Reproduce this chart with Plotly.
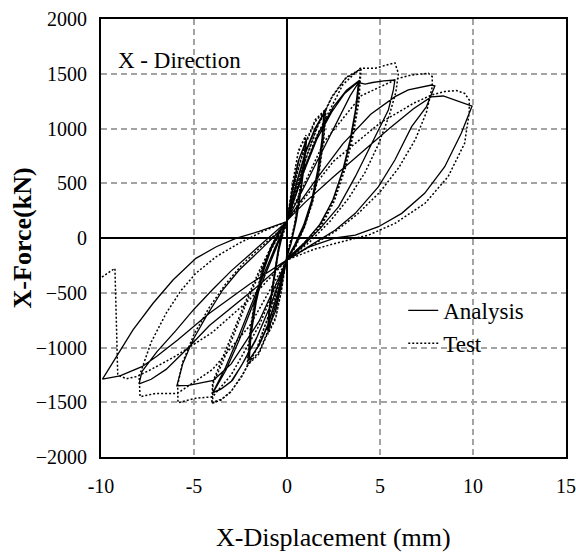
import plotly.graph_objects as go

# ---------------- DATA ----------------
# Analysis (solid) hysteresis cycles, (displacement mm, force kN)
ana_c1 = [(0,150),(0.3,460),(0.6,700),(1.0,880),(0.92,680),(0.72,420),(0.45,150),(0.2,-60),(0,-160),
          (-0.3,-430),(-0.6,-660),(-1.0,-820),(-0.92,-620),(-0.7,-380),(-0.45,-120),(-0.2,60),(0,150)]
ana_c1b = [(0,150),(0.35,480),(0.65,720),(1.05,900),(0.95,690),(0.75,430),(0.5,160),(0.22,-50),(0,-170),
           (-0.35,-450),(-0.65,-680),(-1.05,-840),(-0.95,-630),(-0.72,-370),(-0.48,-110),(-0.22,70),(0,150)]
ana_c2 = [(0,150),(0.5,500),(1.0,790),(1.5,1000),(1.98,1140),(1.88,900),(1.65,620),(1.32,340),(0.9,120),
          (0.42,-60),(0,-190),(-0.5,-510),(-1.0,-790),(-1.5,-980),(-2.03,-1110),(-1.93,-880),(-1.65,-580),
          (-1.28,-310),(-0.85,-100),(-0.4,50),(0,150)]
ana_c2b = [(0,150),(0.55,520),(1.05,800),(1.55,1010),(2.02,1150),(1.9,890),(1.66,600),(1.35,330),(0.95,110),
           (0.45,-70),(0,-200),(-0.55,-530),(-1.05,-800),(-1.55,-990),(-2.06,-1120),(-1.95,-870),(-1.68,-570),
           (-1.3,-300),(-0.88,-90),(-0.42,60),(0,150)]
ana_c4 = [(0,150),(0.8,560),(1.6,900),(2.4,1150),(3.1,1320),(3.85,1430),(3.68,1170),(3.4,900),(3.0,620),
          (2.45,340),(1.75,120),(0.9,-50),(0,-200),(-0.8,-580),(-1.6,-900),(-2.4,-1150),(-2.93,-1300),
          (-3.5,-1375),(-3.96,-1409),(-3.28,-1205),(-2.57,-931),(-1.9,-640),(-1.2,-350),(-0.6,-100),(0,150)]
ana_c4b = [(0,150),(0.85,600),(1.7,960),(2.5,1200),(3.2,1350),(3.9,1440),(3.72,1190),(3.45,920),(3.05,640),
           (2.5,360),(1.8,130),(0.95,-40),(0,-190),(-0.85,-600),(-1.7,-940),(-2.5,-1180),(-3.0,-1310),
           (-3.55,-1380),(-4.0,-1415),(-3.3,-1180),(-2.6,-900),(-1.95,-620),(-1.25,-340),(-0.65,-90),(0,150)]
ana_c6 = [(0,160),(1.2,560),(2.5,1000),(3.4,1300),(3.85,1420),(4.2,1405),(4.6,1420),(5.2,1435),(5.8,1443),
          (5.72,1352),(5.45,1169),(4.56,865),(3.67,560),(2.78,286),(1.8,90),(0.8,-80),(0,-200),
          (-1.5,-760),(-3.0,-1150),(-3.96,-1300),(-4.8,-1330),(-5.3,-1345),(-5.92,-1349),(-5.6,-1145),
          (-5.06,-931),(-4.35,-718),(-3.46,-475),(-2.57,-292),(-1.5,-120),(-0.6,30),(0,150)]
ana_c8 = [(0,160),(1.5,520),(3.0,860),(4.5,1130),(5.81,1291),(6.52,1352),(7.2,1380),(7.77,1397),(7.95,1388),
          (7.5,1200),(6.7,1017),(5.8,712),(4.92,469),(3.67,225),(2.6,73),(1.5,-40),(0,-200),
          (-1.5,-430),(-3.0,-640),(-4.17,-800),(-5.3,-1000),(-6.5,-1200),(-7.3,-1290),(-7.95,-1333),
          (-7.8,-1220),(-7.0,-1040),(-6.0,-850),(-5.0,-650),(-4.0,-470),(-3.0,-300),(-2.0,-150),(-1.0,0),(0,150)]
ana_c10 = [(0,160),(1.0,330),(2.5,560),(4.0,780),(5.5,1000),(6.8,1180),(7.75,1288),(8.4,1297),(9.3,1245),
           (9.95,1205),(9.37,956),(8.48,651),(7.4,408),(6.17,225),(4.92,103),(3.67,27),(2.6,0),(1.2,-80),
           (0,-200),(-2.0,-420),(-4.17,-688),(-5.88,-931),(-7.0,-1080),(-7.8,-1175),(-8.98,-1260),
           (-9.92,-1288),(-9.17,-1084),(-8.28,-840),(-7.2,-596),(-6.13,-384),(-4.9,-186),(-3.8,-80),
           (-2.75,-3),(-1.5,60),(0,150)]

# Test (dotted) hysteresis cycles
tst_c1 = [(0,150),(0.3,500),(0.6,780),(0.99,925),(0.9,700),(0.66,400),(0.4,120),(0.15,-60),(0,-150),
          (-0.3,-480),(-0.6,-720),(-1.0,-860),(-0.9,-620),(-0.66,-330),(-0.4,-60),(-0.12,80),(0,150)]
tst_c1b = [(0,150),(0.32,520),(0.62,800),(1.02,940),(0.92,710),(0.68,410),(0.42,130),(0.16,-50),(0,-160),
           (-0.32,-500),(-0.62,-740),(-1.03,-880),(-0.92,-630),(-0.68,-340),(-0.42,-70),(-0.14,70),(0,150)]
tst_c2 = [(0,150),(0.5,560),(1.0,860),(1.5,1060),(2.07,1169),(1.96,920),(1.72,620),(1.36,340),(0.92,110),
          (0.42,-80),(0,-180),(-0.5,-540),(-1.0,-840),(-1.5,-1040),(-2.1,-1150),(-2.0,-900),(-1.72,-580),
          (-1.32,-300),(-0.82,-80),(-0.32,70),(0,150)]
tst_c2b = [(0,150),(0.52,580),(1.02,880),(1.52,1080),(2.1,1180),(1.98,910),(1.74,610),(1.38,330),(0.94,100),
           (0.44,-90),(0,-190),(-0.52,-560),(-1.02,-860),(-1.52,-1060),(-2.14,-1165),(-2.02,-890),(-1.74,-570),
           (-1.34,-290),(-0.84,-70),(-0.34,80),(0,150)]
tst_c4 = [(0,150),(0.8,620),(1.6,1000),(2.4,1280),(3.14,1458),(3.94,1534),(3.82,1250),(3.52,950),(3.1,650),
          (2.5,350),(1.8,120),(0.9,-50),(0,-200),(-0.8,-620),(-1.6,-1000),(-2.4,-1250),(-3.0,-1400),
          (-3.5,-1470),(-4.0,-1502),(-3.98,-1330),(-3.5,-1150),(-2.9,-900),(-2.2,-600),(-1.5,-330),
          (-0.8,-90),(0,150)]
tst_c4b = [(0,150),(0.85,650),(1.65,1030),(2.45,1300),(3.2,1470),(3.98,1545),(3.86,1240),(3.56,940),(3.14,640),
           (2.55,340),(1.85,110),(0.95,-60),(0,-210),(-0.85,-640),(-1.65,-1020),(-2.45,-1270),(-3.05,-1410),
           (-3.55,-1480),(-4.04,-1510),(-4.0,-1320),(-3.55,-1130),(-2.95,-880),(-2.25,-590),(-1.55,-320),
           (-0.85,-80),(0,150)]
tst_c6 = [(0,160),(1.5,900),(3.0,1400),(3.94,1550),(4.74,1550),(5.36,1580),(5.8,1600),(5.99,1504),(5.85,1330),
          (5.5,1120),(4.9,850),(4.2,600),(3.3,360),(2.3,150),(1.2,-40),(0,-200),(-1.5,-800),(-3.0,-1250),
          (-4.0,-1450),(-4.9,-1463),(-5.86,-1504),(-5.88,-1342),(-5.6,-1130),(-5.0,-880),(-4.2,-640),
          (-3.3,-420),(-2.4,-240),(-1.4,-80),(-0.5,50),(0,150)]
tst_c8 = [(0,160),(2.0,880),(4.0,1300),(5.99,1458),(6.7,1489),(7.6,1504),(7.81,1473),(7.81,1382),(7.5,1150),
          (6.9,900),(6.0,640),(5.0,420),(3.8,220),(2.6,60),(1.3,-70),(0,-200),(-2.0,-800),(-4.0,-1200),
          (-5.9,-1420),(-7.04,-1419),(-7.9,-1449),(-7.95,-1266),(-7.3,-950),(-6.5,-688),(-5.7,-480),
          (-4.9,-322),(-3.8,-170),(-2.6,-50),(-1.3,60),(0,150)]
tst_c10 = [(0,160),(2.5,700),(5.0,1050),(6.8,1230),(7.77,1306),(8.48,1337),(9.1,1347),(9.55,1321),(9.8,1260),
           (9.8,1150),(9.55,865),(8.66,560),(7.42,317),(5.81,134),(4.39,27),(3.3,-18),(1.5,-100),(0,-200),
           (-2.0,-560),(-4.0,-860),(-6.0,-1080),(-7.3,-1200),(-8.1,-1266),(-8.64,-1285),(-9.1,-1251),
           (-9.25,-277),(-10.05,-368)]

analysis_cycles = [ana_c1, ana_c1b, ana_c2, ana_c2b, ana_c4, ana_c4b, ana_c6, ana_c8, ana_c10]
test_cycles = [tst_c1, tst_c1b, tst_c2, tst_c2b, tst_c4, tst_c4b, tst_c6, tst_c8, tst_c10]

x_ticks = [-10, -5, 0, 5, 10, 15]
x_ticktext = ["-10", "-5", "0", "5", "10", "15"]
y_ticks = [-2000, -1500, -1000, -500, 0, 500, 1000, 1500, 2000]

ax = [p[0] for c in analysis_cycles for p in c]
ay = [p[1] for c in analysis_cycles for p in c]
tx = [p[0] for c in test_cycles for p in c]
ty = [p[1] for c in test_cycles for p in c]

fig = go.Figure()
fig.add_trace(go.Scatter(x=ax, y=ay, mode="lines", name="Analysis",
                         line=dict(color="black", width=1.3)))
fig.add_trace(go.Scatter(x=tx, y=ty, mode="lines", name="Test",
                         line=dict(color="black", width=1.5, dash="2px,2px")))

fig.update_xaxes(range=[-10, 15], tickvals=x_ticks, ticktext=x_ticktext, ticklabelstandoff=10,
                 tickfont=dict(family="Liberation Serif", size=20, color="black"),
                 showgrid=True, gridcolor="#a3a3a3", gridwidth=1.5, griddash="6px,4px",
                 zeroline=True, zerolinecolor="black", zerolinewidth=1.5,
                 showline=True, mirror=True, linecolor="black", linewidth=2, ticks="",
                 ticklabeloverflow="allow", automargin=False)
fig.update_yaxes(range=[-2000, 2000], tickvals=y_ticks, ticklabelstandoff=8,
                 tickfont=dict(family="Liberation Serif", size=20, color="black"),
                 showgrid=True, gridcolor="#a3a3a3", gridwidth=1.5, griddash="6px,4px",
                 zeroline=True, zerolinecolor="black", zerolinewidth=1.5,
                 showline=True, mirror=True, linecolor="black", linewidth=2, ticks="")

fig.add_annotation(x=-9.2, y=1625, text="X - Direction", showarrow=False, xanchor="left",
                   yanchor="middle", font=dict(family="Liberation Serif", size=23, color="black"))
fig.add_annotation(x=0.5, y=-0.183, xref="paper", yref="paper", text="X-Displacement (mm)",
                   showarrow=False, xanchor="center", yanchor="middle",
                   font=dict(family="Liberation Serif", size=26, color="black"))
fig.add_annotation(x=-0.169, y=0.5, xref="paper", yref="paper", text="<b>X-Force(kN)</b>",
                   showarrow=False, xanchor="center", yanchor="middle", textangle=-90,
                   font=dict(family="Liberation Serif", size=26, color="black"))

fig.update_layout(width=576, height=558, margin=dict(l=101, r=8, t=19, b=101),
                  plot_bgcolor="white", paper_bgcolor="white",
                  legend=dict(x=0.65, y=0.21, bgcolor="rgba(0,0,0,0)",
                              font=dict(family="Liberation Serif", size=23, color="black"),
                              tracegroupgap=6),
                  showlegend=True)
fig.write_html("out.html")
